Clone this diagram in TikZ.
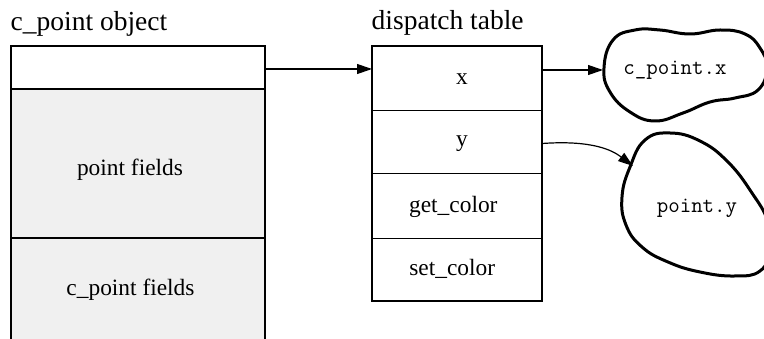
\documentclass[tikz,border=0pt]{standalone}
\usepackage{fontspec}
\setmainfont{Liberation Serif}
\usetikzlibrary{arrows.meta}
\definecolor{cellgray}{HTML}{F0F0F0}
\begin{document}
\begin{tikzpicture}[x=1pt,y=-1pt,
  cell/.style={draw=black, line width=1.4pt, inner sep=0pt, outer sep=0pt},
  title/.style={inner sep=0pt, font=\fontsize{27.5pt}{32pt}\selectfont},
  lbl/.style={inner sep=0pt, anchor=base, font=\fontsize{23.4pt}{28pt}\selectfont},
  mono/.style={inner sep=0pt, anchor=base, font=\fontsize{22.3pt}{26pt}\selectfont\ttfamily},
  arr/.style={line width=1.2pt, -{Triangle[length=15pt,width=10pt]}},
  blob/.style={line width=3pt, line join=round}]
\useasboundingbox (0,0) rectangle (764,339);
\clip (0,0) rectangle (764,339);
\fill[white] (0,0) rectangle (764,339);

% object
\node[cell, minimum width=254pt, minimum height=43pt] (obj0) at (138,67.5) {};
\node[cell, fill=cellgray, minimum width=254pt, minimum height=149pt] (obj1) at (138,163.5) {};
\node[cell, fill=cellgray, minimum width=254pt, minimum height=130pt] (obj2) at (138,303) {};

% dispatch table
\node[cell, minimum width=170pt, minimum height=64.7pt] (dt0) at (457,78.35) {};
\node[cell, minimum width=170pt, minimum height=62.6pt] (dt1) at (457,142) {};
\node[cell, minimum width=170pt, minimum height=65pt] (dt2) at (457,205.8) {};
\node[cell, minimum width=170pt, minimum height=62.7pt] (dt3) at (457,269.65) {};

% titles and labels
\node[title, anchor=base west] (t1) at (10.5,30.5) {c\_point object};
\node[title, anchor=base west] (t2) at (371.5,30) {dispatch table};
\node[lbl] (l1) at (130,175.7) {point fields};
\node[lbl] (l2) at (130.5,296) {c\_point fields};
\node[lbl] (lx) at (462,84.3) {x};
\node[lbl] (ly) at (462,146.5) {y};
\node[lbl] (lg) at (453.3,213) {get\_color};
\node[lbl] (ls) at (452.2,276) {set\_color};

% blobs
\draw[blob] plot[smooth cycle, tension=0.75] coordinates {
  (604,68) (613,40) (635,30) (660,30) (690,34) (720,30) (745,34) (760,48)
  (767,68) (758,90) (735,98) (710,102) (683,113) (655,121) (630,112) (610,92)};
\draw[blob] plot[smooth cycle, tension=0.75] coordinates {
  (670,133) (645,140) (630,167) (622,197) (626,225) (642,247) (668,262)
  (700,272) (735,276) (760,271) (770,250) (768,222) (752,193) (728,162) (700,141)};
\node[mono] (bx) at (675,75) {c\_point.x};
\node[mono] (by) at (697,212.5) {point.y};
\coordinate (bxw) at (603,70);
\coordinate (byin) at (633,166);

% connectors
\draw[arr] ([yshift=-1.5pt]obj0.east) -- ([yshift=-1.5pt]obj0.east -| dt0.west);
\draw[arr] (dt0.east |- bxw) -- (bxw);
\draw[arr] ([yshift=-1.5pt]dt1.east) .. controls (592,140) and (612,150) .. (byin);
\end{tikzpicture}
\end{document}
